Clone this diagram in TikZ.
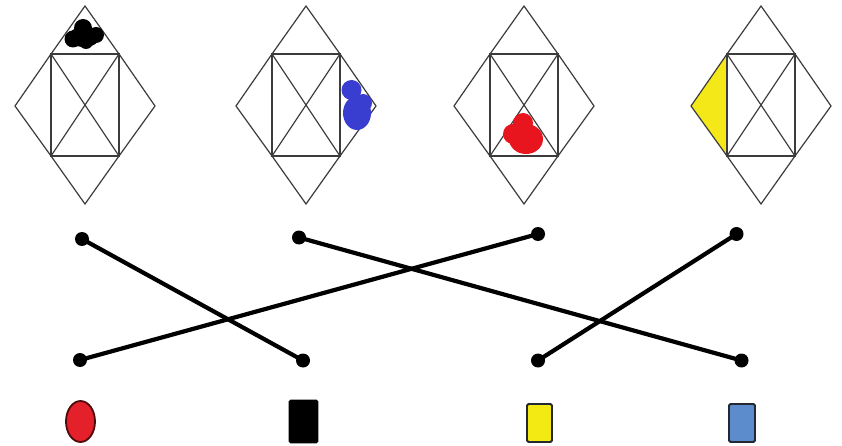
\documentclass[tikz,border=0pt]{standalone}
\usetikzlibrary{shapes.geometric}
\definecolor{edgegray}{RGB}{60,60,60}
\definecolor{blobblue}{RGB}{58,62,208}
\definecolor{blobred}{RGB}{232,20,30}
\definecolor{triyellow}{RGB}{245,232,24}
\definecolor{ellred}{RGB}{228,32,42}
\definecolor{ellrim}{RGB}{80,10,12}
\definecolor{recyellow}{RGB}{242,234,18}
\definecolor{recblue}{RGB}{92,140,204}
\definecolor{recrim}{RGB}{35,40,50}
\begin{document}
\begin{tikzpicture}[x=1pt,y=-1pt,
  figline/.style={draw=edgegray, line width=1.2pt, line join=miter},
  dot/.style={circle, fill=black, inner sep=0pt, minimum size=14pt},
  link/.style={line width=4.2pt},
  token/.style={inner sep=0pt, line width=1.8pt}]
\useasboundingbox[fill=white] (0,0) rectangle (842,446);
% coordinates of the four figures
\foreach \c [count=\i] in {85,306,524,761} {
  \coordinate (t\i) at (\c,6);
  \coordinate (b\i) at (\c,204);
  \coordinate (l\i) at ({\c-70},106);
  \coordinate (r\i) at ({\c+70},106);
  \coordinate (tl\i) at ({\c-34},54);
  \coordinate (tr\i) at ({\c+34},54);
  \coordinate (bl\i) at ({\c-34},156);
  \coordinate (br\i) at ({\c+34},156);
}
% yellow triangle (figure 4)
\fill[triyellow] (l4) -- (tl4) -- (bl4) -- cycle;
% figure lines
\foreach \i in {1,2,3,4} {
  \draw[figline] (t\i) -- (tl\i) -- (l\i) -- (bl\i) -- (b\i) -- (br\i) -- (r\i) -- (tr\i) -- cycle;
  \draw[figline] (tl\i) rectangle (br\i);
  \draw[figline] (tl\i) -- (br\i);
  \draw[figline] (tr\i) -- (bl\i);
}
% blobs
\fill[black] (84,37) ellipse [x radius=16, y radius=10];
\fill[black] (83,28) circle [radius=9];
\fill[black] (73,39) circle [radius=8.5];
\fill[black] (96,35) circle [radius=8];
\fill[black] (86,42) circle [radius=7];
\fill[blobblue] (357,113) ellipse [x radius=14, y radius=17];
\fill[blobblue] (351.5,90) circle [radius=10];
\fill[blobblue] (363,103) circle [radius=9];
\fill[blobred] (526,139) ellipse [x radius=17, y radius=15];
\fill[blobred] (523,123) circle [radius=10];
\fill[blobred] (513,134) circle [radius=10];
% dots
\node[dot] (p1) at (82,239) {};
\node[dot] (p2) at (299,237.5) {};
\node[dot] (p3) at (538,234) {};
\node[dot] (p4) at (736.5,234) {};
\node[dot] (q1) at (80,360) {};
\node[dot] (q2) at (303,360.5) {};
\node[dot] (q3) at (538,360.5) {};
\node[dot] (q4) at (741.5,360.5) {};
\draw[link] (p1.center) -- (q2.center);
\draw[link] (p2.center) -- (q4.center);
\draw[link] (p3.center) -- (q1.center);
\draw[link] (p4.center) -- (q3.center);
% tokens
\node[token, ellipse, draw=ellrim, fill=ellred, minimum width=29pt, minimum height=41pt] (e1) at (80.5,421.5) {};
\node[token, rectangle, rounded corners=1.5pt, fill=black, draw=black, minimum width=28pt, minimum height=42pt] (e2) at (303.5,421.5) {};
\node[token, rectangle, rounded corners=1.5pt, draw=recrim, fill=recyellow, minimum width=25pt, minimum height=38pt] (e3) at (539.5,423) {};
\node[token, rectangle, rounded corners=1.5pt, draw=recrim, fill=recblue, minimum width=26pt, minimum height=38pt] (e4) at (742,423) {};
\end{tikzpicture}
\end{document}
